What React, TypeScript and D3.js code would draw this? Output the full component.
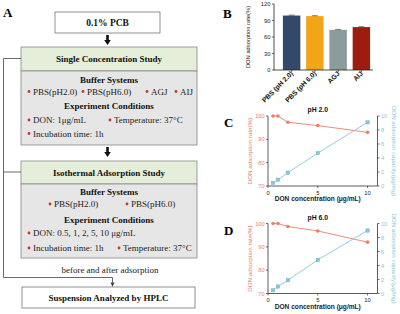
import React from 'react';
import * as d3 from 'd3';

// ---------- Panel B data ----------
const barCategories = ['PBS (pH 2.0)', 'PBS (pH 6.0)', 'AGJ', 'AIJ'];
const barValues = [99, 98, 73, 78];
const barErrors = [0.8, 0.8, 0.8, 0.8];
const barColors = ['#34496a', '#f2a516', '#8b9b9b', '#9c1c10'];
const barTicks = [0, 30, 60, 90, 120];

// ---------- Panels C / D data ----------
const concentrations = [0.5, 1, 2, 5, 10];
const rateC = [100, 100, 97.3, 95.9, 93.0];
const capC = [0.45, 0.9, 1.9, 4.7, 9.1];
const rateD = [100, 100, 98.7, 96.8, 92.0];
const capD = [0.47, 1.0, 1.9, 4.8, 9.0];
const leftTicks = [70, 80, 90, 100];
const rightTicks = [0, 2, 4, 6, 8, 10];
const xTicks = [0, 5, 10];

// ---------- Panel A text ----------
const singleBuffers = ['PBS(pH2.0)', 'PBS(pH6.0)', 'AGJ', 'AIJ'];
const isoBuffers = ['PBS(pH2.0)', 'PBS(pH6.0)'];

const SERIF = '"Liberation Serif", "Times New Roman", serif';
const SANS = '"Liberation Sans", Arial, sans-serif';
const RED = '#e8806b';
const BLUE = '#86c7d9';
const BULLET = '#c0392b';
const FS = 9;

function Bullet({ x, y, text }: { x: number; y: number; text: string }) {
  return (
    <g>
      <circle cx={x} cy={y - 3} r={1.4} fill={BULLET} />
      <text x={x + 4} y={y} fontFamily={SERIF} fontSize={FS} fill="#222">{text}</text>
    </g>
  );
}

function DownArrow({ x, y1, y2 }: { x: number; y1: number; y2: number }) {
  const head = 5;
  return (
    <path
      d={`M${x - 1.3},${y1} H${x + 1.3} V${y2 - head} H${x + 3.3} L${x},${y2} L${x - 3.3},${y2 - head} H${x - 1.3} Z`}
      fill="#111"
    />
  );
}

function Title({ x, y, text, size = FS }: { x: number; y: number; text: string; size?: number }) {
  return (
    <text x={x} y={y} textAnchor="middle" fontFamily={SERIF} fontWeight="bold" fontSize={size} fill="#111">{text}</text>
  );
}

function PanelA() {
  const bx = 21, bw = 176;
  const cx = bx + bw / 2;
  return (
    <g>
      <text x={3} y={17} fontFamily={SERIF} fontWeight="bold" fontSize={13}>A</text>
      {/* PCB box */}
      <rect x={55} y={12} width={105} height={21} fill="#fff" stroke="#777" strokeWidth={0.8} />
      <Title x={107.5} y={26} text="0.1% PCB" size={9.5} />
      <DownArrow x={107.5} y1={35} y2={45} />
      {/* Single concentration */}
      <rect x={bx} y={47} width={bw} height={24} fill="#e4eed8" stroke="#888" strokeWidth={0.8} />
      <Title x={cx} y={62} text="Single Concentration Study" />
      <rect x={bx} y={71} width={bw} height={74} fill="#e6e6e6" stroke="#888" strokeWidth={0.8} />
      <Title x={cx} y={82.5} text="Buffer Systems" />
      {singleBuffers.map((b, i) => (
        <Bullet key={b} x={[29, 83, 147, 176][i]} y={94.5} text={b} />
      ))}
      <Title x={cx} y={108.5} text="Experiment Conditions" />
      <Bullet x={29} y={123} text="DON: 1μg/mL" />
      <Bullet x={110} y={123} text="Temperature: 37°C" />
      <Bullet x={29} y={136.5} text="Incubation time: 1h" />
      <DownArrow x={107.5} y1={147} y2={157} />
      {/* Isothermal */}
      <rect x={bx} y={161} width={bw} height={23} fill="#e4eed8" stroke="#888" strokeWidth={0.8} />
      <Title x={cx} y={176} text="Isothermal Adsorption Study" />
      <rect x={bx} y={184} width={bw} height={74} fill="#e6e6e6" stroke="#888" strokeWidth={0.8} />
      <Title x={cx} y={194.5} text="Buffer Systems" />
      {isoBuffers.map((b, i) => (
        <Bullet key={b} x={[50, 127][i]} y={207} text={b} />
      ))}
      <Title x={cx} y={222.5} text="Experiment Conditions" />
      <Bullet x={29} y={236} text="DON: 0.5, 1, 2, 5, 10 μg/mL" />
      <Bullet x={29} y={251} text="Incubation time: 1h" />
      <Bullet x={119} y={251} text="Temperature: 37°C" />
      <text x={110} y={273} textAnchor="middle" fontFamily={SERIF} fontSize={FS} fill="#222">before and after adsorption</text>
      {/* bracket */}
      <path d="M21,58.5 H3.5 V277.5 H112.5 V284" fill="none" stroke="#444" strokeWidth={0.8} />
      <path d="M3.5,172 H21" fill="none" stroke="#444" strokeWidth={0.8} />
      <path d="M110.5,282.5 L112.5,287 L114.5,282.5 Z" fill="#444" />
      {/* HPLC */}
      <rect x={22} y={287} width={173} height={21} fill="#fff" stroke="#777" strokeWidth={0.8} />
      <Title x={108.5} y={301} text="Suspension Analyzed by HPLC" />
    </g>
  );
}

function PanelB() {
  const y = d3.scaleLinear().domain([0, 120]).range([70, 4]);
  const x = d3.scaleBand<string>().domain(barCategories).range([280, 373]).paddingInner(0.25).paddingOuter(0.125);
  const axisX = 274;
  return (
    <g>
      <text x={223} y={18} fontFamily={SERIF} fontWeight="bold" fontSize={13}>B</text>
      {barCategories.map((c, i) => {
        const v = barValues[i];
        const e = barErrors[i];
        const cx = (x(c) as number) + x.bandwidth() / 2;
        return (
          <g key={c}>
            <rect x={x(c)} y={y(v)} width={x.bandwidth()} height={y(0) - y(v)} fill={barColors[i]} />
            <line x1={cx} x2={cx} y1={y(v)} y2={y(v + e)} stroke="#333" strokeWidth={0.6} />
            <line x1={cx - 3} x2={cx + 3} y1={y(v + e)} y2={y(v + e)} stroke="#333" strokeWidth={0.6} />
            <line x1={cx} x2={cx} y1={y(0)} y2={y(0) + 2} stroke="#222" strokeWidth={0.7} />
            <text
              transform={`translate(${cx + 2},${y(0) + 4}) rotate(-45)`}
              textAnchor="end"
              fontFamily={SANS}
              fontWeight="bold"
              fontSize={6.8}
              fill="#111"
            >{c}</text>
          </g>
        );
      })}
      <line x1={axisX} x2={axisX} y1={y(120)} y2={y(0)} stroke="#222" strokeWidth={0.8} />
      <line x1={axisX} x2={373} y1={y(0)} y2={y(0)} stroke="#222" strokeWidth={0.8} />
      {barTicks.map((t) => (
        <g key={t}>
          <line x1={axisX - 2} x2={axisX} y1={y(t)} y2={y(t)} stroke="#222" strokeWidth={0.7} />
          <text x={axisX - 3.5} y={y(t) + 2} textAnchor="end" fontFamily={SANS} fontSize={5.8} fill="#222">{t}</text>
        </g>
      ))}
      <text
        transform={`translate(249.5,${(y(0) + y(120)) / 2}) rotate(-90)`}
        textAnchor="middle"
        fontFamily={SANS}
        fontSize={5.8}
        fill="#222"
      >DON adsorption rate(%)</text>
    </g>
  );
}

function DualPanel({ top, label, title, rate, cap }: { top: number; label: string; title: string; rate: number[]; cap: number[] }) {
  const h = 70;
  const x = d3.scaleLinear().domain([0, 11]).range([268, 377.5]);
  const yL = d3.scaleLinear().domain([70, 100]).range([top + h, top]);
  const yR = d3.scaleLinear().domain([0, 10]).range([top + h, top]);
  const lineL = d3.line<number>().x((_, i) => x(concentrations[i])).y((d) => yL(d));
  const lineR = d3.line<number>().x((_, i) => x(concentrations[i])).y((d) => yR(d));
  const x0 = x(0), x1 = x(11);
  const bottom = top + h;
  return (
    <g>
      <text x={224} y={top + 11} fontFamily={SERIF} fontWeight="bold" fontSize={13}>{label}</text>
      <text x={(x(0) + x(10)) / 2} y={top - 4} textAnchor="middle" fontFamily={SANS} fontWeight="bold" fontSize={6.8} fill="#111">{title}</text>
      <line x1={x0} x2={x0} y1={top} y2={bottom} stroke="#333" strokeWidth={0.8} />
      <line x1={x1} x2={x1} y1={top} y2={bottom} stroke="#333" strokeWidth={0.8} />
      <line x1={x0} x2={x1} y1={bottom} y2={bottom} stroke="#333" strokeWidth={0.8} />
      {leftTicks.map((t) => (
        <g key={'l' + t}>
          <line x1={x0 - 2} x2={x0} y1={yL(t)} y2={yL(t)} stroke="#333" strokeWidth={0.7} />
          <text x={x0 - 3.5} y={yL(t) + 2} textAnchor="end" fontFamily={SANS} fontSize={5.6} fill={RED}>{t}</text>
        </g>
      ))}
      {rightTicks.map((t) => (
        <g key={'r' + t}>
          <line x1={x1} x2={x1 + 2} y1={yR(t)} y2={yR(t)} stroke="#333" strokeWidth={0.7} />
          <text x={x1 + 3.5} y={yR(t) + 2} textAnchor="start" fontFamily={SANS} fontSize={5.6} fill={BLUE}>{t}</text>
        </g>
      ))}
      {xTicks.map((t) => (
        <g key={'x' + t}>
          <line x1={x(t)} x2={x(t)} y1={bottom} y2={bottom + 2} stroke="#333" strokeWidth={0.7} />
          <text x={x(t)} y={bottom + 8.5} textAnchor="middle" fontFamily={SANS} fontSize={5.8} fill="#222">{t}</text>
        </g>
      ))}
      <text x={(x(0) + x(10)) / 2} y={bottom + 15} textAnchor="middle" fontFamily={SANS} fontWeight="bold" fontSize={6.6} fill="#222">DON concentration (μg/mL)</text>
      <text
        transform={`translate(252,${(top + bottom) / 2}) rotate(-90)`}
        textAnchor="middle"
        fontFamily={SANS}
        fontSize={6.2}
        fill={RED}
      >DON adsorption rate(%)</text>
      <text
        transform={`translate(392,${(top + bottom) / 2}) rotate(90)`}
        textAnchor="middle"
        fontFamily={SANS}
        fontSize={6.2}
        fill={BLUE}
      >DON adsorption capacity(μg/mg)</text>
      <path d={lineL(rate) ?? ''} fill="none" stroke={RED} strokeWidth={0.9} />
      <path d={lineR(cap) ?? ''} fill="none" stroke={BLUE} strokeWidth={0.9} />
      {rate.map((v, i) => (
        <circle key={'pr' + i} cx={x(concentrations[i])} cy={yL(v)} r={1.8} fill={RED} />
      ))}
      {cap.map((v, i) => (
        <rect key={'pc' + i} x={x(concentrations[i]) - 1.7} y={yR(v) - 1.7} width={3.4} height={3.4} fill={BLUE} stroke="#6aaec2" strokeWidth={0.4} />
      ))}
    </g>
  );
}

export default function App() {
  return (
    <svg
      width={400}
      height={314}
      viewBox="0 0 400 314"
      style={{ position: 'absolute', left: 0, top: 0, background: '#fff' }}
    >
      <rect x={0} y={0} width={400} height={314} fill="#fff" />
      <PanelA />
      <PanelB />
      <DualPanel top={116} label="C" title="pH 2.0" rate={rateC} cap={capC} />
      <DualPanel top={223.5} label="D" title="pH 6.0" rate={rateD} cap={capD} />
    </svg>
  );
}
